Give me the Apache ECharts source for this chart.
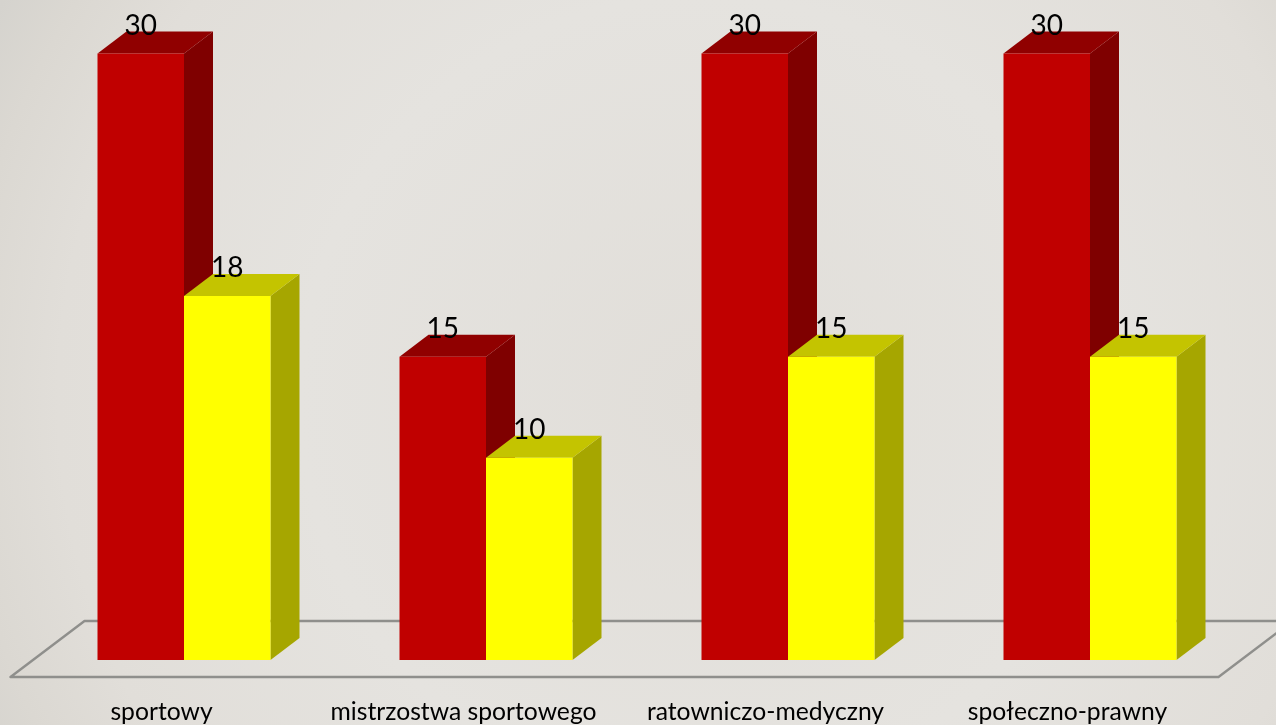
<!DOCTYPE html>
<html><head><meta charset="utf-8">
<style>html,body{margin:0;padding:0;width:1276px;height:725px;overflow:hidden}#c{width:1276px;height:725px}</style>
<script src="https://cdn.jsdelivr.net/npm/echarts@6/dist/echarts.min.js"></script>
</head><body><div id="c"></div>
<script>
const categories = ['sportowy', 'mistrzostwa sportowego', 'ratowniczo-medyczny', 'społeczno-prawny'];
const redValues = [30, 15, 30, 30];
const yellowValues = [18, 10, 15, 15];

const DEPTH_X = 29, DEPTH_Y = 22, BAR_W = 86.5, SHIFT_X = 22.5;
const LABEL_FONT = '28px Lato, "Open Sans", sans-serif';

function bar3d(offset, face, top, side) {
  return function (params, api) {
    const i = api.value(0), v = api.value(1);
    const c0 = api.coord([i, 0]), c1 = api.coord([i, v]);
    const xl = c0[0] + SHIFT_X + offset * BAR_W, xr = xl + BAR_W;
    const yb = c0[1], yt = c1[1];
    const poly = (pts, fill) => ({ type: 'polygon', shape: { points: pts }, style: { fill: fill } });
    return {
      type: 'group',
      children: [
        poly([[xr, yb], [xr + DEPTH_X, yb - DEPTH_Y], [xr + DEPTH_X, yt - DEPTH_Y], [xr, yt]], side),
        poly([[xl, yt], [xl + DEPTH_X, yt - DEPTH_Y], [xr + DEPTH_X, yt - DEPTH_Y], [xr, yt]], top),
        poly([[xl, yb], [xr, yb], [xr, yt], [xl, yt]], face),
        { type: 'text', z2: 10, style: { text: String(v), x: (xl + xr) / 2, y: yt - 28, align: 'center', verticalAlign: 'middle', font: LABEL_FONT, fill: '#000' } }
      ]
    };
  };
}

const chart = echarts.init(document.getElementById('c'), null, { renderer: 'canvas' });
chart.setOption({
  animation: false,
  backgroundColor: {
    type: 'radial', x: 0.55, y: 0.55, r: 1.11,
    colorStops: [{ offset: 0, color: '#e1ded9' }, { offset: 0.5, color: '#e5e3df' }, { offset: 0.8, color: '#e1ded9' }, { offset: 0.92, color: '#dbd8d2' }, { offset: 1, color: '#d5d3ce' }]
  },
  grid: { left: 10.5, width: 1208, top: 53.5, height: 606.5 },
  xAxis: {
    type: 'category', data: categories,
    axisLine: { show: false }, axisTick: { show: false }, splitLine: { show: false },
    axisLabel: { margin: 40, interval: 0, color: '#000', fontSize: 24.7, fontFamily: 'Lato, "Open Sans", sans-serif' }
  },
  yAxis: { type: 'value', min: 0, max: 30, show: false },
  series: [
    {
      type: 'custom', clip: false, z: 1, data: [[0, 0]], silent: true,
      renderItem: function (params, api) {
        const c = api.coord([0, 0]);
        const left = params.coordSys.x, right = left + params.coordSys.width, y0 = c[1];
        const front = y0 + 17, back = y0 - 39;
        return {
          type: 'polygon',
          shape: { points: [[left, front], [right, front], [right + 74, back], [left + 74, back]] },
          style: { fill: 'none', stroke: '#8f8f8c', lineWidth: 2.4, lineJoin: 'round' }
        };
      }
    },
    { type: 'custom', clip: false, z: 2, data: redValues.map((v, i) => [i, v]), renderItem: bar3d(-1, '#C00000', '#900000', '#7F0000') },
    { type: 'custom', clip: false, z: 3, data: yellowValues.map((v, i) => [i, v]), renderItem: bar3d(0, '#FFFF00', '#C4C400', '#A6A600') }
  ]
});
</script></body></html>
